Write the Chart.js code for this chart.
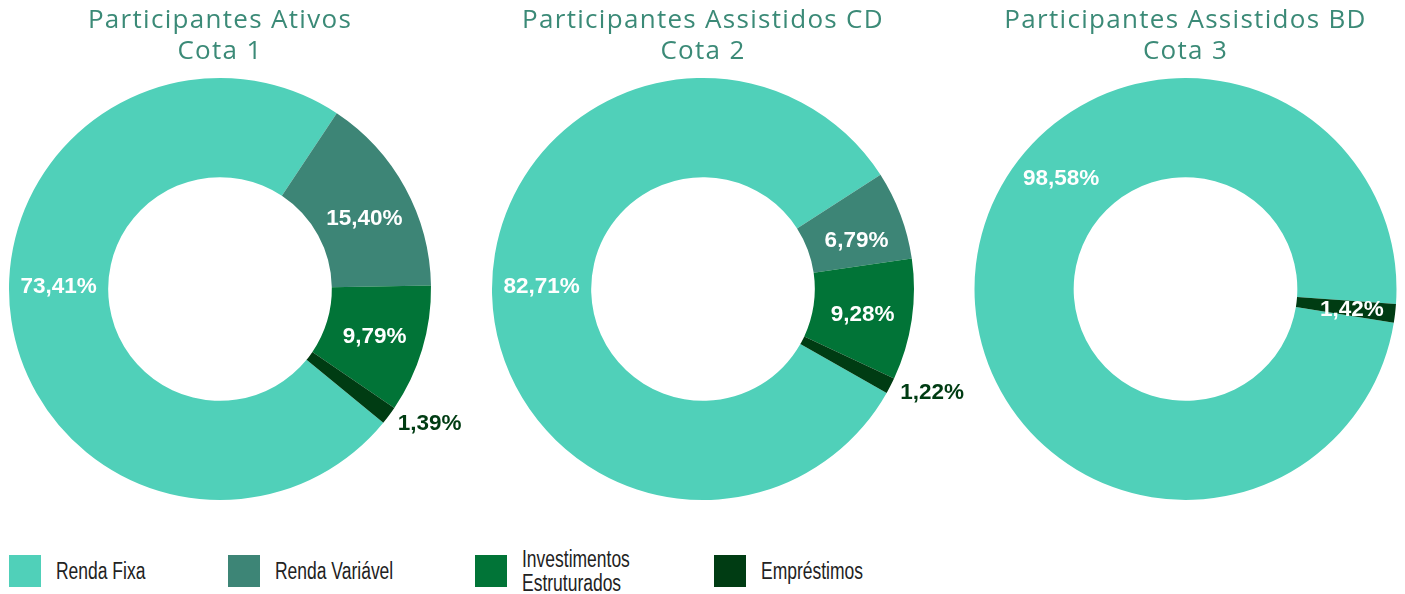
<!DOCTYPE html>
<html>
<head>
<meta charset="utf-8">
<script src="https://cdn.jsdelivr.net/npm/chart.js@4.4.0/dist/chart.umd.min.js"></script>
<style>
  body { margin: 0; width: 1405px; height: 594px; background: #fff; position: relative; overflow: hidden; }
  .box { position: absolute; top: 0; height: 510px; }
  .item { position: absolute; top: 547px; height: 48px; display: flex; align-items: center;
          font-family: "Liberation Sans", Arial, sans-serif; font-size: 23px; color: #222; }
  .sw { width: 32px; height: 32px; margin-right: 15px; flex: none; }
  .item span { line-height: 24px; white-space: nowrap; display: inline-block;
               transform: scaleX(0.76); transform-origin: left center; }
</style>
</head>
<body>
<div class="box" style="left:0;width:483px"><canvas id="c1"></canvas></div>
<div class="box" style="left:483px;width:483px"><canvas id="c2"></canvas></div>
<div class="box" style="left:966px;width:439px"><canvas id="c3"></canvas></div>
<div id="legend"></div>

<script>
const categorias = ['Renda Fixa', 'Renda Variável', 'Investimentos Estruturados', 'Empréstimos'];
const cores = ['#50d0b9', '#3d8576', '#017437', '#003c13'];

const tituloAtivos = ['Participantes Ativos', 'Cota 1'];
const tituloCD = ['Participantes Assistidos CD', 'Cota 2'];
const tituloBD = ['Participantes Assistidos BD', 'Cota 3'];

const ativos = [73.41, 15.40, 9.79, 1.39];
const assistidosCD = [82.71, 6.79, 9.28, 1.22];
const assistidosBD = [98.58, 0, 0, 1.42];

const fmt = v => v.toFixed(2).replace('.', ',') + '%';

// espaçamento das letras do título (o Chart.js não tem opção pra isso)
const espacoTitulo = {
  id: 'espacoTitulo',
  beforeDraw(chart) { chart.ctx.letterSpacing = '1.3px'; },
  afterDraw(chart) { chart.ctx.letterSpacing = '0px'; }
};

// rótulos dentro das fatias (ou fora, p/ as fatias pequenas)
const rotulos = {
  id: 'rotulos',
  afterDatasetsDraw(chart, args, opts) {
    const ctx = chart.ctx;
    const meta = chart.getDatasetMeta(0);
    const valores = chart.data.datasets[0].data;
    ctx.save();
    ctx.letterSpacing = '0px';
    ctx.font = 'bold 22.5px "Liberation Sans", Arial, sans-serif';
    ctx.textBaseline = 'alphabetic';
    const meia = 8; // metade da altura dos números
    meta.data.forEach((arc, i) => {
      const v = valores[i];
      if (!v) return;
      const p = arc.getProps(['x', 'y', 'startAngle', 'endAngle', 'innerRadius', 'outerRadius'], true);
      let ang = (p.startAngle + p.endAngle) / 2;
      if (opts.angulos && opts.angulos[i] != null) ang = (opts.angulos[i] - 90) * Math.PI / 180;
      let r;
      if (opts.fora && opts.fora.includes(i)) {
        r = p.outerRadius + 11;
        ctx.fillStyle = '#003c13';
        ctx.textAlign = 'left';
      } else {
        r = (p.innerRadius + p.outerRadius) / 2 + (opts.desloc || 0);
        ctx.fillStyle = '#fff';
        ctx.textAlign = 'center';
      }
      ctx.fillText(fmt(v), p.x + Math.cos(ang) * r, p.y + Math.sin(ang) * r + meia);
    });
    ctx.restore();
  }
};

function rosca(id, titulo, valores, rotacao, padDir, opcRotulos) {
  new Chart(document.getElementById(id), {
    type: 'doughnut',
    data: {
      labels: categorias,
      datasets: [{
        data: valores,
        backgroundColor: cores,
        borderWidth: 0
      }]
    },
    options: {
      responsive: true,
      maintainAspectRatio: false,
      animation: false,
      cutout: '53%',
      rotation: rotacao,
      layout: { padding: { left: 0, right: padDir, top: 0, bottom: 10 } },
      plugins: {
        legend: { display: false },
        tooltip: { enabled: false },
        title: {
          display: true,
          text: titulo,
          color: '#3b8a77',
          font: { family: '"Open Sans", sans-serif', size: 26, weight: 'normal', lineHeight: 1.1923 },
          padding: { top: 5, bottom: 11 }
        },
        rotulos: opcRotulos
      }
    },
    plugins: [espacoTitulo, rotulos]
  });
}

rosca('c1', tituloAtivos, ativos, 129.3, 43, { fora: [3], angulos: { 0: 271.4, 1: 63.5 } });
rosca('c2', tituloCD, assistidosCD, 119.5, 43, { fora: [3], angulos: { 0: 271.4, 1: 72 } });
rosca('c3', tituloBD, assistidosBD, 99.2, 0, { angulos: { 0: 312 }, desloc: 6 });

// legenda
const legendaX = [9, 228, 475, 714];
const leg = document.getElementById('legend');
categorias.forEach((c, i) => {
  const d = document.createElement('div');
  d.className = 'item';
  d.style.left = legendaX[i] + 'px';
  const txt = c.length > 15 ? c.replace(' ', '<br>') : c;
  d.innerHTML = '<div class="sw" style="background:' + cores[i] + '"></div><span>' + txt + '</span>';
  leg.appendChild(d);
});
</script>
</body>
</html>
